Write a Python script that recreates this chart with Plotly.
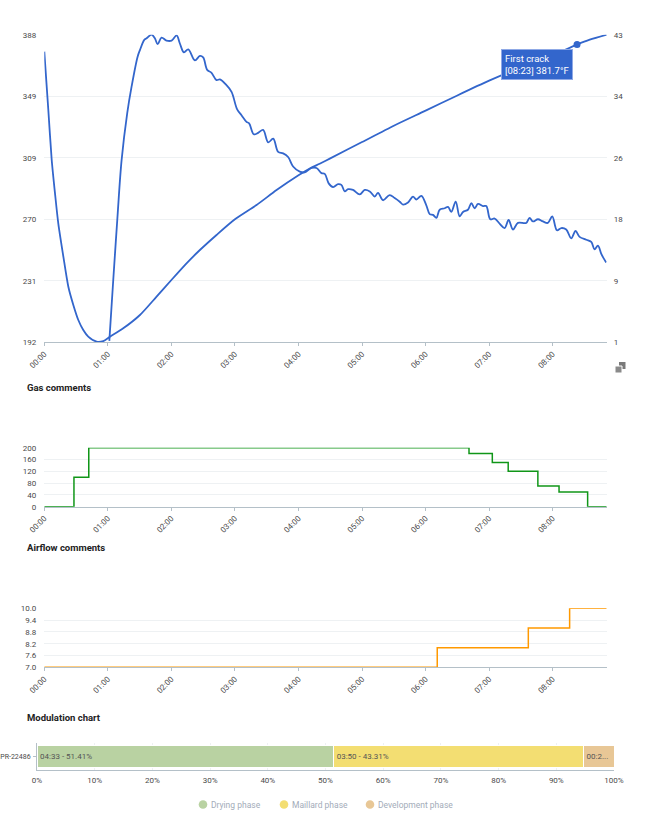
import plotly.graph_objects as go

# ---------------- data ----------------
# Bean temperature (°F) vs time (s)
bt_time = [0, 3.8, 7, 10.1, 13.2, 18, 22.7, 27.4, 32.1, 36.8, 41.5, 49.4, 55.7, 62, 74.5,
           90.3, 106, 120, 134.3, 146.9, 162.6, 180, 200.4, 219.3, 240, 251, 260, 270,
           300, 330, 360, 390, 420, 450, 480, 503, 515, 531]
bt_temp = [377.2, 340, 308.2, 286.9, 267.8, 246.6, 227.4, 215.8, 206.2, 199.8, 195.6, 192.4,
           192.8, 195.6, 200.9, 209.4, 221.1, 231.7, 242.3, 250.8, 260.4, 270.4, 279.5, 289,
           298.4, 302.9, 305.8, 309.2, 319.6, 330.0, 339.6, 349.3, 358.7, 367.2, 375.0,
           381.7, 384.8, 388.0]

# Rate of rise vs time (s)
ror_time = [61.4, 65.1, 68.9, 73.0, 78.3, 82.4, 88.1, 90.3, 94.4, 96.6, 101.3, 104.4, 107,
            110.7, 115.4, 120.2, 124.9, 128, 131.8, 135.9, 142.2, 146.9, 150, 153.8, 157.9,
            162.6, 165.8, 172, 176.8, 182.1, 186.2, 190.9, 193.4, 197.8, 201.9, 206.6, 211.4,
            216.1, 220.8, 225.5, 230.2, 234.9, 241.2, 245.9, 252.2, 257, 261.7, 264.8, 268.5,
            272.7, 277.4, 280.5, 283.7, 286.8, 291.5, 297.8, 302.6, 307.3, 312, 315.1, 319.8,
            326.1, 330.8, 335.6, 338.7, 343.4, 348.1, 351.3, 356, 360.7, 363.9, 367, 370.2,
            373.3, 378, 381.2, 384.3, 388.4, 392.2, 395.3, 400, 403.2, 406.3, 409.5, 414.2,
            417.3, 421.1, 425.2, 429.9, 434.6, 438.4, 442.5, 447.2, 455, 458.2, 461.3, 466.1,
            470.8, 475.5, 479.6, 484, 488.1, 492.8, 497.5, 501.6, 505.4, 511.7, 516.4, 519.5,
            522.7, 525.8, 528, 530.5]
ror_value = [1.2, 9.5, 17.7, 25.9, 32.3, 35.9, 40.0, 40.9, 42.3, 42.5, 43.0, 42.5, 41.7,
             42.6, 42.2, 42.2, 42.9, 41.8, 40.6, 41.0, 39.5, 40.1, 39.9, 38.2, 37.8,
             36.8, 36.9, 36.1, 35.2, 32.8, 32.0, 31.1, 30.9, 29.4, 29.6, 30.0, 28.3,
             28.8, 27.0, 26.8, 26.3, 25.0, 24.3, 24.2, 24.8, 24.8, 24.1, 24.0, 22.7,
             22.2, 22.6, 22.5, 21.6, 21.9, 21.8, 21.2, 21.8, 21.6, 20.9, 21.4, 20.4,
             21.1, 20.7, 20.2, 19.8, 20.1, 20.9, 20.5, 21.0, 19.7, 18.5, 18.4, 18.0,
             19.1, 19.3, 19.5, 18.8, 20.2, 18.2, 18.8, 19.1, 20.0, 19.3, 19.9, 19.6,
             19.6, 17.8, 17.9, 17.2, 16.6, 17.7, 16.4, 17.3, 17.3, 18.0, 17.5, 17.8,
             17.5, 17.3, 18.2, 16.3, 16.6, 16.4, 15.2, 16.2, 15.4, 15.0, 14.7, 13.7,
             14.2, 13.1, 12.5, 11.9]

first_crack_time = 503      # 08:23
first_crack_temp = 381.7

gas_time = [0, 28, 42, 401, 423, 438, 466, 486, 513, 531]
gas_value = [0, 100, 200, 180, 150, 120, 70, 50, 0, 0]

air_time = [0, 371, 457, 496, 531]
air_value = [7.0, 8.0, 9.0, 10.0, 10.0]

roast_end = 531

time_ticks = [0, 60, 120, 180, 240, 300, 360, 420, 480]
time_tick_labels = ["00:00", "01:00", "02:00", "03:00", "04:00", "05:00", "06:00", "07:00", "08:00"]

bt_ticks = [192, 231.2, 270.4, 309.6, 348.8, 388]
bt_tick_labels = ["192", "231", "270", "309", "349", "388"]
ror_ticks = [1, 9.4, 17.8, 26.2, 34.6, 43]
ror_tick_labels = ["1", "9", "18", "26", "34", "43"]
gas_ticks = [0, 40, 80, 120, 160, 200]
air_ticks = [7.0, 7.6, 8.2, 8.8, 9.4, 10.0]
air_tick_labels = ["7.0", "7.6", "8.2", "8.8", "9.4", "10.0"]

batch_label = "PR-22486"
phase_names = ["Drying phase", "Maillard phase", "Development phase"]
phase_durations = ["04:33", "03:50", "00:28"]
phase_percents = [51.41, 43.31, 5.28]
phase_colors = ["#b9d2a2", "#f3de72", "#e8c796"]
pct_ticks = [0, 10, 20, 30, 40, 50, 60, 70, 80, 90, 100]

# ---------------- styles ----------------
W, H = 653, 817
FONT = "Roboto"
BLUE = "#3366cc"
GREEN = "#109618"
ORANGE = "#ff9900"
GRID = "#eef1f3"
AXLINE = "#b4c0c8"
TICKFONT = dict(family=FONT, size=8, color="#4a4a4a")


def px_x(p):
    return p / W


def px_y(p):
    return 1 - p / H


fig = go.Figure()

# ---- main roast chart ----
fig.add_trace(go.Scatter(x=bt_time, y=bt_temp, mode="lines", line=dict(color=BLUE, width=1.8, shape="spline", smoothing=0.7),
                         xaxis="x", yaxis="y", cliponaxis=False, showlegend=False, hoverinfo="skip"))
fig.add_trace(go.Scatter(x=ror_time, y=ror_value, mode="lines", line=dict(color=BLUE, width=1.8, shape="spline", smoothing=1.0),
                         xaxis="x", yaxis="y2", cliponaxis=False, showlegend=False, hoverinfo="skip"))
fig.add_trace(go.Scatter(x=[first_crack_time], y=[first_crack_temp], mode="markers",
                         marker=dict(color=BLUE, size=7), xaxis="x", yaxis="y", cliponaxis=False,
                         showlegend=False, hoverinfo="skip"))

# ---- gas ----
fig.add_trace(go.Scatter(x=gas_time, y=gas_value, mode="lines", line=dict(color=GREEN, width=1.5, shape="hv"),
                         xaxis="x3", yaxis="y3", cliponaxis=False, showlegend=False, hoverinfo="skip"))
# ---- airflow ----
fig.add_trace(go.Scatter(x=air_time, y=air_value, mode="lines", line=dict(color=ORANGE, width=1.5, shape="hv"),
                         xaxis="x4", yaxis="y4", cliponaxis=False, showlegend=False, hoverinfo="skip"))

# ---- modulation ----
for name, dur, pct, col in zip(phase_names, phase_durations, phase_percents, phase_colors):
    label = f"{dur} - {pct:.2f}%"
    shown = label if pct > 10 else label[:4] + "..."
    fig.add_trace(go.Bar(x=[pct], y=[batch_label], orientation="h", name=name,
                         marker=dict(color=col, line=dict(color="#ffffff", width=1)),
                         text=[shown], textposition="inside", insidetextanchor="start",
                         textfont=dict(family=FONT, size=8, color="#555555"),
                         width=0.8, xaxis="x5", yaxis="y5", showlegend=False, hoverinfo="skip"))

xdom = [px_x(44.3), px_x(606.7)]
time_axis = dict(range=[0, roast_end], tickvals=time_ticks, ticktext=time_tick_labels,
                 tickangle=-45, tickfont=TICKFONT, showgrid=False, zeroline=False,
                 showline=True, linecolor=AXLINE, linewidth=1, ticks="outside", ticklen=3,
                 tickcolor=AXLINE, domain=xdom, automargin=False)

layout = dict(
    width=W, height=H, margin=dict(l=0, r=0, t=0, b=0, autoexpand=False),
    paper_bgcolor="white", plot_bgcolor="white",
    font=dict(family=FONT, size=8, color="#555555"),
    showlegend=False,
    barmode="stack",
    uniformtext=dict(minsize=8, mode="show"),
    xaxis=dict(time_axis, anchor="y"),
    yaxis=dict(domain=[px_y(342.3), px_y(34.7)], range=[192, 388], tickvals=bt_ticks,
               ticktext=bt_tick_labels, tickfont=TICKFONT, gridcolor=GRID, gridwidth=1,
               zeroline=False, showline=False, ticklabelstandoff=7, anchor="x", automargin=False),
    yaxis2=dict(overlaying="y", side="right", range=[1, 43], tickvals=ror_ticks,
                ticktext=ror_tick_labels, tickfont=TICKFONT, showgrid=False, zeroline=False,
                showline=False, ticklabelstandoff=6, anchor="x", automargin=False),
    xaxis3=dict(time_axis, anchor="y3"),
    yaxis3=dict(domain=[px_y(506.7), px_y(447.7)], range=[0, 200], tickvals=gas_ticks,
                tickfont=TICKFONT, gridcolor=GRID, zeroline=False, showline=False,
                ticklabelstandoff=7, anchor="x3", automargin=False),
    xaxis4=dict(time_axis, anchor="y4"),
    yaxis4=dict(domain=[px_y(667.3), px_y(608.3)], range=[7, 10], tickvals=air_ticks,
                ticktext=air_tick_labels, tickfont=TICKFONT, gridcolor=GRID, zeroline=False,
                showline=False, ticklabelstandoff=7, anchor="x4", automargin=False),
    xaxis5=dict(domain=[px_x(37), px_x(614)], range=[0, 100], tickvals=pct_ticks,
                ticktext=[f"{v}%" for v in pct_ticks], tickfont=TICKFONT, gridcolor=GRID,
                zeroline=False, showline=True, linecolor=AXLINE, anchor="y5", ticklabelstandoff=2,
                automargin=False),
    yaxis5=dict(domain=[px_y(770.3), px_y(742.5)], range=[-0.5, 0.5], type="category",
                tickfont=dict(family=FONT, size=7, color="#4a4a4a"), showgrid=False,
                zeroline=False, showline=True, ticklabelstandoff=1,
                linecolor=AXLINE, ticks="outside", ticklen=3, tickcolor=AXLINE, anchor="x5",
                automargin=False),
)
fig.update_layout(**layout)

annotations = [
    dict(x=first_crack_time, y=first_crack_temp, xref="x", yref="y",
         text=f"First crack<br>[{first_crack_time // 60:02d}:{first_crack_time % 60:02d}] {first_crack_temp}°F",
         showarrow=False, xanchor="right", yanchor="top", xshift=-4, yshift=-4, align="left",
         bgcolor=BLUE, bordercolor="#8fa9e6", borderwidth=1, borderpad=3,
         font=dict(family=FONT, size=9.5, color="white")),
]
for title, ypx in [("Gas comments", 387.5), ("Airflow comments", 547.5), ("Modulation chart", 717.5)]:
    annotations.append(dict(x=px_x(25), y=px_y(ypx), xref="paper", yref="paper", text=f"<b>{title}</b>",
                            showarrow=False, xanchor="left", yanchor="middle",
                            font=dict(family=FONT, size=9.5, color="#222222")))

# custom legend (circle + text)
shapes = []
legend_cx = [203, 284, 370]
legend_cy = 804.5
for cx, name, col in zip(legend_cx, phase_names, phase_colors):
    shapes.append(dict(type="circle", xref="paper", yref="paper",
                       x0=px_x(cx - 4.3), x1=px_x(cx + 4.3), y0=px_y(legend_cy + 4.3), y1=px_y(legend_cy - 4.3),
                       fillcolor=col, line=dict(width=0)))
    annotations.append(dict(x=px_x(cx + 6), y=px_y(legend_cy), xref="paper", yref="paper", text=name,
                            showarrow=False, xanchor="left", yanchor="middle",
                            font=dict(family=FONT, size=8.5, color="#a3acb9")))

# small copy icon at bottom-right of main chart
shapes.append(dict(type="rect", xref="paper", yref="paper", x0=px_x(619), x1=px_x(625.5),
                   y0=px_y(369), y1=px_y(362), fillcolor="#7a7a7a", line=dict(width=0)))
shapes.append(dict(type="rect", xref="paper", yref="paper", x0=px_x(615), x1=px_x(622),
                   y0=px_y(373), y1=px_y(366), fillcolor="#8a8a8a", line=dict(color="white", width=1)))

fig.update_layout(annotations=annotations, shapes=shapes)

fig.write_html("out.html", config=dict(displayModeBar=False),
               post_script="document.body.style.margin='0';document.body.style.overflow='hidden';")
